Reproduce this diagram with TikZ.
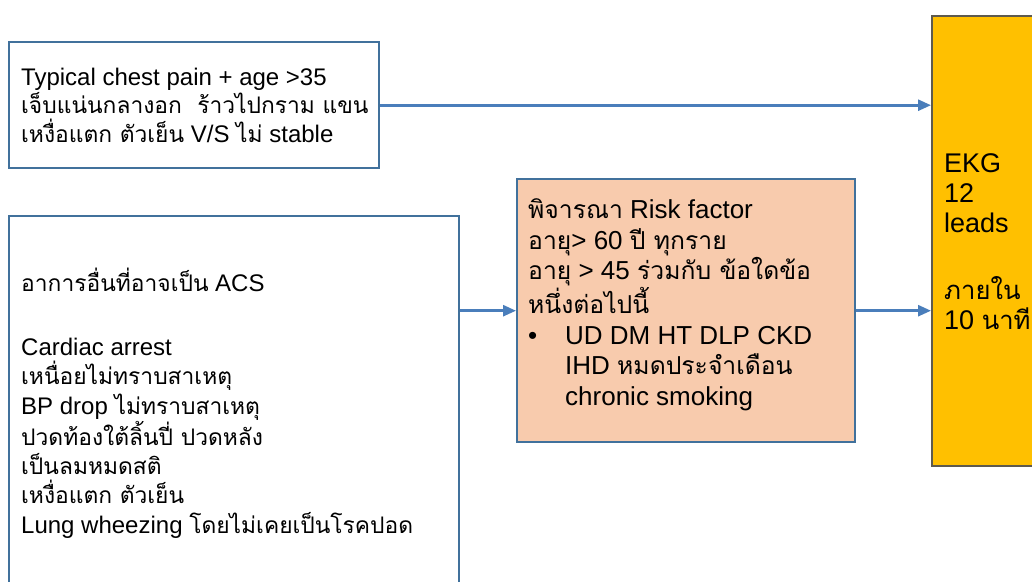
\documentclass[tikz,border=0pt]{standalone}
\usepackage{fontspec}
\setmainfont{Liberation Sans}
\newfontfamily\thaifont[Script=Thai,Scale=0.95]{Loma}
\newcommand\tht[1]{{\thaifont #1}}
\usetikzlibrary{arrows.meta}
\definecolor{boxline}{HTML}{41719C}
\definecolor{linkblue}{HTML}{4A7EBB}
\definecolor{riskfill}{HTML}{F8CBAD}
\definecolor{ekgfill}{HTML}{FFC000}
\definecolor{ekgline}{HTML}{5E5A4E}
\begin{document}
\begin{tikzpicture}[x=1pt,y=-1pt]
\tikzset{
  box/.style={draw=boxline, line width=2.4pt, inner sep=0pt, anchor=north west},
  % multi-line texts are placed by the baseline of their last line
  txt/.style={align=left, inner sep=0pt, anchor=base west},
  link/.style={draw=linkblue, line width=2.6pt, -{Triangle[length=13pt,width=11pt]}},
}
\useasboundingbox (0,0) rectangle (1032,581);
\fill[white] (0,0) rectangle (1032,581);

% boxes
\node[box, minimum width=370pt, minimum height=126pt] (chest) at (8,41) {};
\node[box, minimum width=450pt, minimum height=400pt] (acs) at (8,215) {};
\node[box, fill=riskfill, minimum width=338pt, minimum height=263pt] (risk) at (516,178) {};
\node[box, draw=ekgline, fill=ekgfill, minimum width=130pt, minimum height=450pt] (ekg) at (931,15) {};

% texts
\node[txt, font=\fontsize{24}{28.5}\selectfont] (chesttxt) at (21,142)
  {Typical chest pain + age >35\\
   \tht{เจ็บแน่นกลางอก\ \ ร้าวไปกราม แขน}\\
   \tht{เหงื่อแตก ตัวเย็น} V/S \tht{ไม่} stable};

\node[txt, font=\fontsize{24}{29.3}\selectfont] (acstxt) at (21,533)
  {\tht{อาการอื่นที่อาจเป็น} ACS\\[34.7pt]
   Cardiac arrest\\
   \tht{เหนื่อยไม่ทราบสาเหตุ}\\
   BP drop \tht{ไม่ทราบสาเหตุ}\\
   \tht{ปวดท้องใต้ลิ้นปี่ ปวดหลัง}\\
   \tht{เป็นลมหมดสติ}\\
   \tht{เหงื่อแตก ตัวเย็น}\\
   Lung wheezing \tht{โดยไม่เคยเป็นโรคปอด}};

\node[txt, font=\fontsize{26}{30.5}\selectfont] (risktxt) at (528,405)
  {\tht{พิจารณา} Risk factor\\
   \tht{อายุ}> 60 \tht{ปี ทุกราย}\\
   \tht{อายุ} > 45 \tht{ร่วมกับ ข้อใดข้อ}\\
   \tht{หนึ่งต่อไปนี้}\\
   \makebox[37pt][l]{•}UD DM HT DLP CKD\\
   \hspace*{37pt}IHD \tht{หมดประจำเดือน}\\
   \hspace*{37pt}chronic smoking};

\node[txt, font=\fontsize{27}{30}\selectfont] (ekgtxt) at (944,329)
  {EKG\\ 12\\ leads\\[37pt] \tht{ภายใน}\\ 10 \tht{นาที}};

% connectors
\draw[link] (chest.east) -- (chest.east -| ekg.west);
\draw[link] (risk.west -| acs.east) -- (risk.west);
\draw[link] (risk.east) -- (risk.east -| ekg.west);
\end{tikzpicture}
\end{document}
